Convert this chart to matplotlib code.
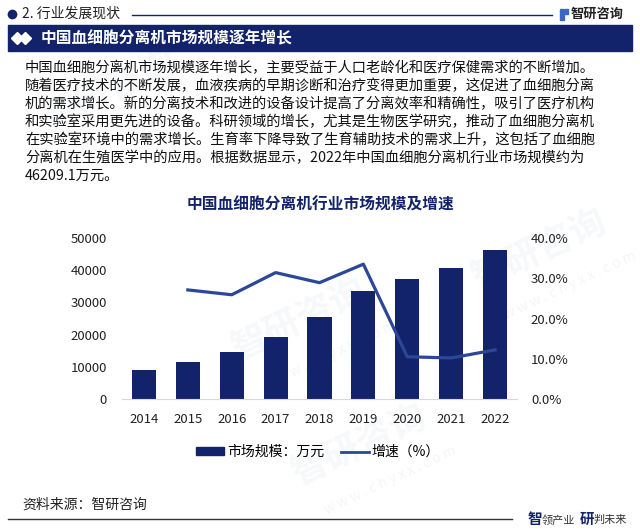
import matplotlib
matplotlib.use("Agg")
import matplotlib.pyplot as plt
from matplotlib.patches import Rectangle
from matplotlib.lines import Line2D

plt.rcParams['font.family'] = ['Noto Sans CJK SC', 'DejaVu Sans']

# data
years = ['2014', '2015', '2016', '2017', '2018', '2019', '2020', '2021', '2022']
market_size = [9140, 11600, 14680, 19380, 25330, 33630, 37130, 40820, 46209.1]
growth_years = years[1:]
growth_rate = [27.1, 25.9, 31.4, 28.9, 33.5, 10.5, 10.2, 12.2]

paragraph = [
    "中国血细胞分离机市场规模逐年增长，主要受益于人口老龄化和医疗保健需求的不断增加。",
    "随着医疗技术的不断发展，血液疾病的早期诊断和治疗变得更加重要，这促进了血细胞分离",
    "机的需求增长。新的分离技术和改进的设备设计提高了分离效率和精确性，吸引了医疗机构",
    "和实验室采用更先进的设备。科研领域的增长，尤其是生物医学研究，推动了血细胞分离机",
    "在实验室环境中的需求增长。生育率下降导致了生育辅助技术的需求上升，这包括了血细胞",
    "分离机在生殖医学中的应用。根据数据显示，2022年中国血细胞分离机行业市场规模约为",
    "46209.1万元。",
]

navy = '#13236b'
line_blue = '#2b4797'
W, H = 640, 529

fig = plt.figure(figsize=(W / 100, H / 100), dpi=100)

# background axes in pixel coords
bg = fig.add_axes([0, 0, 1, 1])
bg.set_xlim(0, W)
bg.set_ylim(H, 0)
bg.axis('off')

# faint watermarks
for (wx, wy) in [(110, 90), (300, 320), (540, 250), (360, 445)]:
    bg.text(wx, wy, '智研咨询', fontsize=26, color='#1b3a8a', alpha=0.04,
            rotation=25, ha='center', va='center', fontweight='bold')
    bg.text(wx + 30, wy + 35, 'w w w . c h y x x . c o m', fontsize=10,
            color='#1b3a8a', alpha=0.05, rotation=25, ha='center', va='center')

# header
bg.plot(12, 14, 'o', color=navy, markersize=6)
bg.text(22, 14, '2. 行业发展现状', fontsize=10, color='#222222', va='center', ha='left')
bg.plot([132, 552], [15, 15], color=navy, lw=1)
bg.add_patch(Rectangle((560, 9), 3.5, 11, color='#3a66c4'))
bg.add_patch(Rectangle((564.5, 9), 3.5, 5, color='#3a66c4'))
bg.text(571, 14, '智研咨询', fontsize=9.5, color='#222222', va='center', ha='left',
        fontweight='bold')

# title bar
bg.add_patch(Rectangle((8, 25), 624, 26, color=navy))
bg.plot([17, 25], [38, 38], 'D', color='white', markersize=6)
bg.text(41, 38, '中国血细胞分离机市场规模逐年增长', fontsize=11.3, color='white',
        fontweight='bold', va='center', ha='left')

# paragraph
for i, ln in enumerate(paragraph):
    bg.text(25, 68 + 18 * i, ln, fontsize=10.3, color='#111111', va='center', ha='left')

# chart title
bg.text(320, 205, '中国血细胞分离机行业市场规模及增速', fontsize=11.3, color=navy,
        fontweight='bold', ha='center', va='center')

# footer
bg.text(22, 505, '资料来源：智研咨询', fontsize=10, color='#222222', va='center', ha='left')
bg.plot([8, 512], [519, 519], color='#333333', lw=1)
bg.text(528, 519, '智', fontsize=10.5, color=navy, fontweight='bold', va='center', ha='left')
bg.text(542, 520, '领产业', fontsize=8, color='#333333', va='center', ha='left')
bg.text(580, 519, '研', fontsize=10.5, color=navy, fontweight='bold', va='center', ha='left')
bg.text(594, 520, '判未来', fontsize=8, color='#333333', va='center', ha='left')

# chart axes
left, right, top, bottom = 122, 517, 238, 399
ax = fig.add_axes([left / W, (H - bottom) / H, (right - left) / W, (bottom - top) / H])
ax.patch.set_alpha(0)
x = list(range(len(years)))
ax.bar(x, market_size, width=0.55, color=navy, label='市场规模：万元', zorder=2)
ax.set_xlim(-0.5, len(years) - 0.5)
ax.set_ylim(0, 50000)
ax.set_yticks([0, 10000, 20000, 30000, 40000, 50000])
ax.set_xticks(x)
ax.set_xticklabels(years)
for s in ['top', 'right', 'left']:
    ax.spines[s].set_visible(False)
ax.spines['bottom'].set_color('#d9d9d9')
ax.tick_params(axis='both', length=0, labelsize=9.5, colors='#222222')
ax.tick_params(axis='x', pad=10)
ax.tick_params(axis='y', pad=11)

ax2 = ax.twinx()
ax2.plot([years.index(y) for y in growth_years], [g / 100 for g in growth_rate],
         color=line_blue, lw=2.3, label='增速（%）', zorder=3)
ax2.set_ylim(0, 0.4)
ax2.set_yticks([0, 0.1, 0.2, 0.3, 0.4])
ax2.set_yticklabels([f'{v:.1f}%' for v in [0, 10, 20, 30, 40]])
for s in ['top', 'right', 'left', 'bottom']:
    ax2.spines[s].set_visible(False)
ax2.tick_params(axis='y', length=0, labelsize=9.5, colors='#222222', pad=10)

handles = [Rectangle((0, 0), 1, 1, color=navy),
           Line2D([0], [0], color=line_blue, lw=2)]
fig.legend(handles, ['市场规模：万元', '增速（%）'], loc='center',
           bbox_to_anchor=(318 / W, 1 - 452 / H), ncol=2, frameon=False,
           fontsize=10, handlelength=2.0, handleheight=0.5, columnspacing=1.2,
           handletextpad=0.2)

fig.savefig('out.png', dpi=100)
